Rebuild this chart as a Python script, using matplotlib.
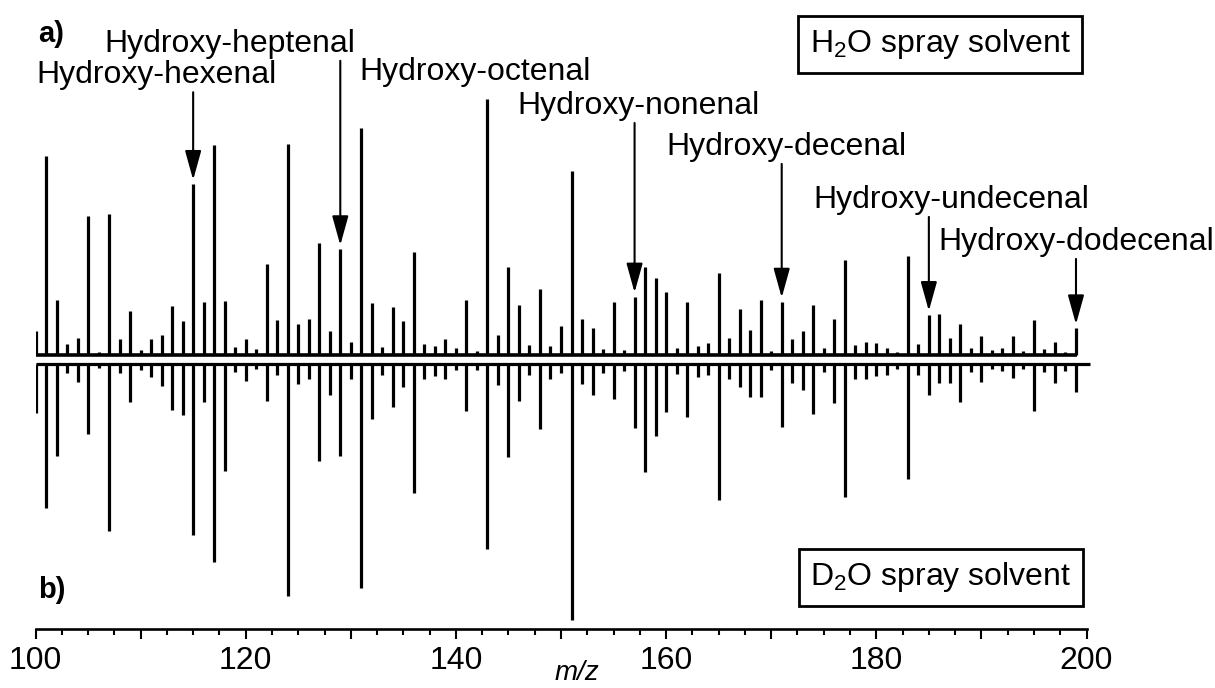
import matplotlib
matplotlib.use("Agg")
import matplotlib.pyplot as plt
from matplotlib.ticker import MultipleLocator, FuncFormatter

plt.rcParams['font.family'] = ['Liberation Sans', 'DejaVu Sans']
plt.rcParams['mathtext.fontset'] = 'custom'
plt.rcParams['mathtext.rm'] = 'Liberation Sans'

# nominal m/z of every stick
mz = list(range(100, 200))

# relative intensities (%), H2O spray solvent
h2o = [9.5, 77.7, 21.5, 4.3, 6.6, 54.3, 1.2, 55.0, 6.1, 17.3,      # 100-109
       2.0, 6.3, 7.8, 19.1, 13.4, 66.8, 20.7, 81.9, 21.2, 3.2,      # 110-119
       6.4, 2.5, 35.7, 13.7, 82.3, 12.0, 13.9, 43.6, 9.5, 41.3,     # 120-129
       5.2, 88.6, 20.4, 3.2, 18.9, 13.4, 40.1, 4.2, 3.6, 6.1,       # 130-139
       2.9, 21.4, 1.7, 100.0, 7.8, 34.5, 19.5, 3.9, 25.8, 3.6,      # 140-149
       11.4, 72.0, 13.9, 10.4, 2.5, 20.8, 2.0, 22.8, 34.5, 30.2,    # 150-159
       24.6, 2.6, 20.8, 3.6, 4.6, 32.1, 6.5, 17.9, 9.8, 21.5,       # 160-169
       1.7, 20.8, 6.1, 9.4, 19.5, 2.9, 14.2, 37.0, 3.9, 5.1,        # 170-179
       4.6, 2.9, 1.3, 38.7, 4.2, 15.6, 15.9, 6.5, 12.0, 2.6,        # 180-189
       7.5, 2.0, 2.6, 7.4, 1.7, 13.7, 2.2, 5.2, 1.3, 10.4]          # 190-199

# relative intensities (%), D2O spray solvent
d2o = [19.3, 56.4, 35.8, 3.6, 7.1, 27.3, 1.7, 65.1, 3.6, 14.7,
       2.3, 5.1, 8.5, 17.8, 20.1, 66.8, 15.0, 77.3, 41.9, 3.2,
       6.5, 2.0, 14.6, 4.3, 90.6, 7.8, 5.8, 37.9, 12.3, 36.1,
       5.9, 87.6, 21.4, 4.3, 16.9, 8.8, 50.4, 5.9, 4.5, 5.9,
       2.3, 18.2, 2.3, 72.2, 8.1, 36.5, 14.6, 4.3, 25.2, 5.9,
       3.6, 100.0, 7.7, 12.0, 3.4, 13.6, 2.6, 24.9, 42.3, 28.3,
       18.8, 3.9, 20.8, 4.9, 4.3, 53.0, 5.9, 8.8, 12.9, 12.9,
       2.3, 24.5, 7.5, 10.3, 19.7, 3.0, 15.2, 51.9, 5.9, 5.7,
       4.6, 4.3, 2.0, 44.8, 4.3, 12.0, 7.5, 7.5, 15.0, 3.0,
       7.2, 2.0, 2.6, 5.5, 2.0, 18.4, 3.0, 7.5, 2.6, 11.1]

# assigned [M+H]+ ions of the hydroxy-alkenals
names = ['Hydroxy-hexenal', 'Hydroxy-heptenal', 'Hydroxy-octenal', 'Hydroxy-nonenal',
         'Hydroxy-decenal', 'Hydroxy-undecenal', 'Hydroxy-dodecenal']
label_mz = [115, 129, 143, 157, 171, 185, 199]
has_arrow = [True, True, False, True, True, True, True]

# label placement (x in m/z, y = text baseline)
text_x = [111.56, 118.51, 141.82, 157.42, 171.41, 187.16, 199.0]
text_y = [107.9, 120.2, 109.2, 95.9, 79.9, 59.2, 42.8]

OFF = 1.76   # half gap between the two baselines
FS = 23

fig = plt.figure(figsize=(12.15, 6.88), dpi=100, facecolor='white')
ax = fig.add_axes([0.02922, 0.08576, 0.86502, 0.91424])

top = [OFF + v for v in h2o]
bot = [-OFF - v for v in d2o]
ax.vlines(mz, OFF, top, color='black', lw=2.3)
ax.vlines(mz, -OFF, bot, color='black', lw=2.3)
ax.plot([100, mz[-1] + 0.1], [OFF, OFF], color='black', lw=2.6, solid_capstyle='butt')
ax.plot([100, 200.3], [-OFF, -OFF], color='black', lw=2.3, solid_capstyle='butt', clip_on=False)

ax.set_xlim(100, 200)
ax.set_ylim(-105.27, 140.43)

for s in ['left', 'right', 'top']:
    ax.spines[s].set_visible(False)
ax.spines['bottom'].set_linewidth(1.9)
ax.set_yticks([])

ax.xaxis.set_major_locator(MultipleLocator(10))
ax.xaxis.set_minor_locator(MultipleLocator(2.5))
ax.xaxis.set_major_formatter(FuncFormatter(lambda v, p: f"{v:.0f}" if v % 20 == 0 else ""))
ax.tick_params(axis='x', which='major', length=7.5, width=1.5, direction='out',
               labelsize=23, pad=5)
ax.tick_params(axis='x', which='minor', length=4.5, width=1.5, direction='out')

ax.text(151.5, -0.05, 'm/z', transform=ax.get_xaxis_transform(), ha='center', va='top',
        fontsize=20, fontstyle='italic')

# peak labels and arrows
for name, m, arrow, tx, ty in zip(names, label_mz, has_arrow, text_x, text_y):
    ax.text(tx, ty, name, ha='center', va='baseline', fontsize=FS)
    if arrow:
        tip = OFF + h2o[mz.index(m)] + 1.6
        ax.annotate('', xy=(m, tip), xytext=(m, ty - 3.5),
                    arrowprops=dict(arrowstyle='-|>,head_length=1.8,head_width=0.5',
                                    color='black', lw=1.5, shrinkA=0, shrinkB=0,
                                    mutation_scale=10))

ax.text(100.24, 124.0, 'a)', ha='left', va='baseline', fontsize=21, fontweight='bold')
ax.text(100.24, -93.2, 'b)', ha='left', va='baseline', fontsize=21, fontweight='bold')

box = dict(boxstyle='square,pad=0.36', facecolor='white', edgecolor='black', lw=2.0)
ax.text(186.06, 123.2, r'H$_\mathregular{2}$O spray solvent', ha='center', va='center',
        fontsize=23, bbox=box)
ax.text(186.15, -85.0, r'D$_\mathregular{2}$O spray solvent', ha='center', va='center',
        fontsize=23, bbox=box)

fig.savefig('out.png', dpi=100, facecolor='white')
